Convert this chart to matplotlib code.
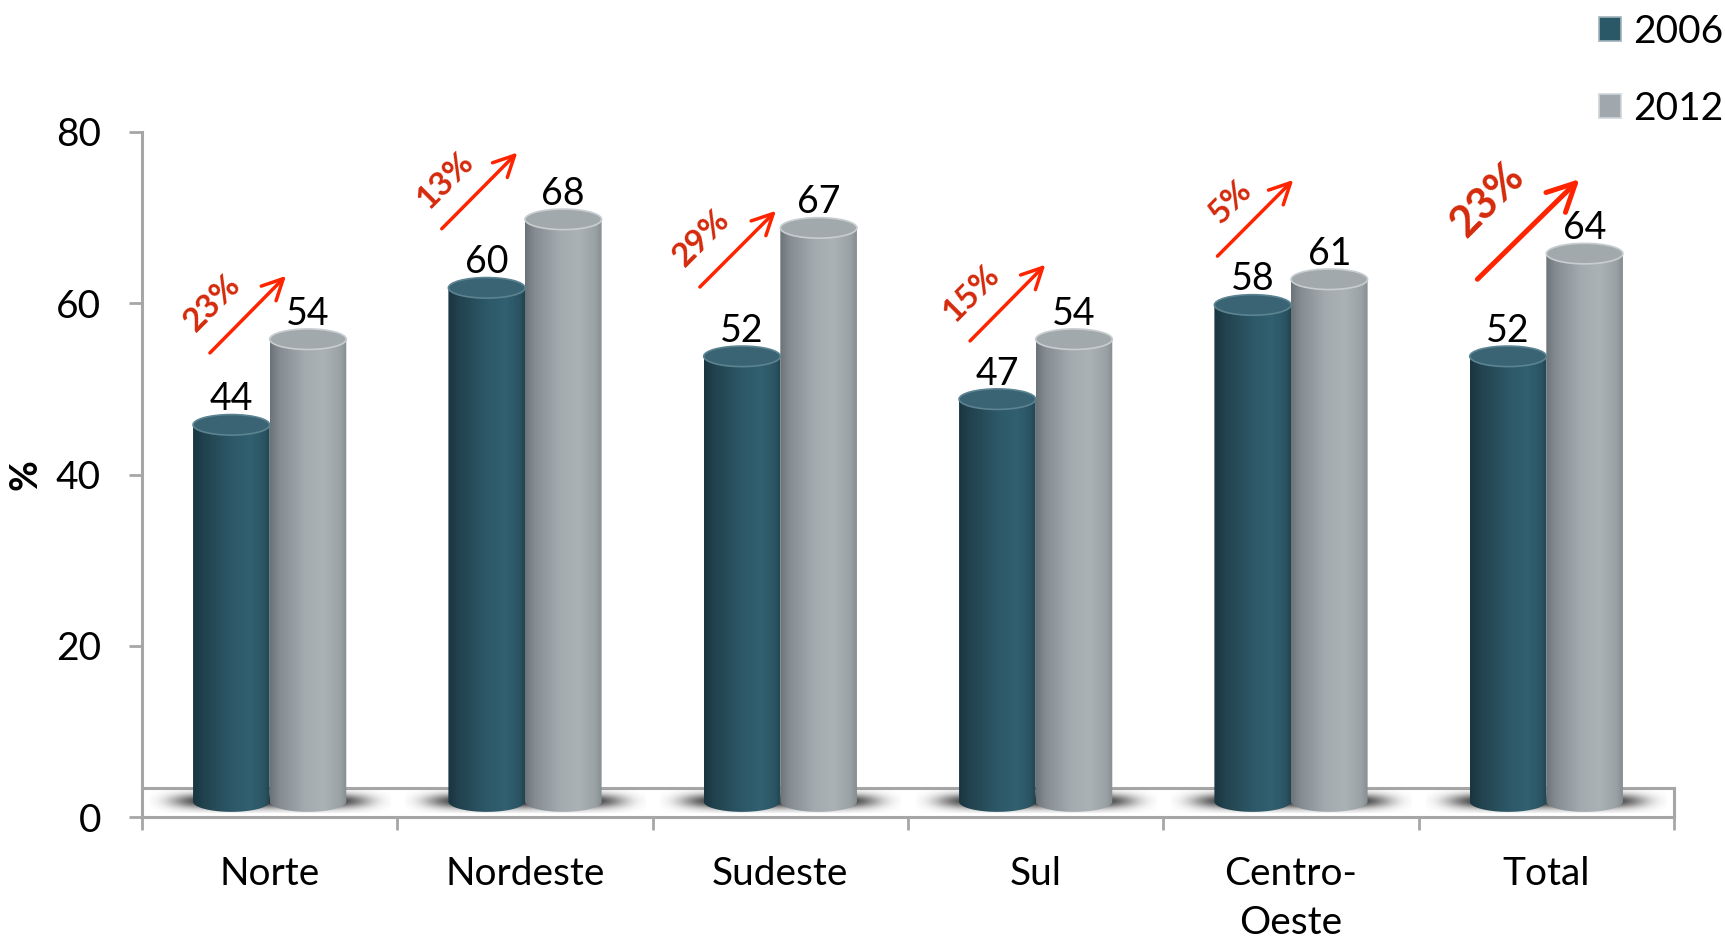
import matplotlib.pyplot as plt
import numpy as np
from matplotlib.patches import Ellipse, PathPatch, Rectangle, Patch
from matplotlib.path import Path
from matplotlib.colors import to_rgb

# data
regions = ['Norte', 'Nordeste', 'Sudeste', 'Sul', 'Centro-\nOeste', 'Total']
val_2006 = [44, 60, 52, 47, 58, 52]
val_2012 = [54, 68, 67, 54, 61, 64]
growth = ['23%', '13%', '29%', '15%', '5%', '23%']

# hand placed growth arrows / labels: (offset from group centre, y)
arrow_tail = [(-0.234, 54.2), (-0.326, 68.7), (-0.315, 61.9), (-0.257, 55.6), (-0.288, 65.5), (-0.270, 62.8)]
arrow_tip = [(0.064, 63.2), (-0.030, 77.6), (-0.017, 70.8), (0.038, 64.5), (0.009, 74.4), (0.130, 74.5)]
growth_pos = [(-0.226, 60.0), (-0.313, 74.4), (-0.308, 67.6), (-0.250, 61.2), (-0.238, 71.9), (-0.233, 72.1)]

plt.rcParams['font.family'] = ['Lato', 'DejaVu Sans']

GREY = '#a6a6a6'
BAR_W = 0.30
CAP_H = 2.4
LIFT = 1.8      # 3d depth lift of the cylinders
FLOOR = 3.4
FS = 27

grad_2006 = [(0.0, '#183540'), (0.15, '#22434f'), (0.5, '#2d5867'), (0.75, '#316070'), (0.93, '#2b5463'), (1.0, '#21434f')]
grad_2012 = [(0.0, '#6c7378'), (0.12, '#848c91'), (0.45, '#a3abaf'), (0.7, '#aab2b6'), (0.92, '#99a1a5'), (1.0, '#858d91')]


def gradient(stops, n=200):
    pos = np.array([s[0] for s in stops])
    cols = np.array([to_rgb(s[1]) for s in stops])
    t = np.linspace(0, 1, n)
    rgb = np.stack([np.interp(t, pos, cols[:, k]) for k in range(3)], axis=-1)
    return rgb[np.newaxis, :, :]


def cylinder(ax, x0, value, stops, cap, rim):
    bottom = LIFT
    top = value + LIFT
    t = np.linspace(np.pi, 2 * np.pi, 40)
    xs = x0 + BAR_W / 2 + BAR_W / 2 * np.cos(t)
    ys = bottom + CAP_H / 2 * np.sin(t)
    verts = list(zip(xs, ys)) + [(x0 + BAR_W, top), (x0, top), (xs[0], ys[0])]
    clip = PathPatch(Path(verts, closed=True), transform=ax.transData)
    im = ax.imshow(gradient(stops), extent=(x0, x0 + BAR_W, bottom - CAP_H / 2, top),
                   aspect='auto', interpolation='bilinear', zorder=3)
    im.set_clip_path(clip)
    ax.add_patch(Ellipse((x0 + BAR_W / 2, top), BAR_W, CAP_H, facecolor=cap,
                         edgecolor=rim, lw=1.2, zorder=4))


fig = plt.figure(figsize=(17.25, 9.39), dpi=100)
ax = fig.add_axes([142 / 1725, 1 - 817 / 939, 1532 / 1725, 685 / 939])

centers = np.arange(len(regions)) + 0.5

# floor of the 3d plot
ax.add_patch(Rectangle((0, 0), len(regions), FLOOR, facecolor='white', edgecolor='none', zorder=1))
ax.plot([0, len(regions)], [FLOOR, FLOOR], color=GREY, lw=2.2, zorder=1.5, clip_on=False)
ax.plot([len(regions), len(regions)], [0, FLOOR], color=GREY, lw=2.2, zorder=1.5, clip_on=False)

# soft shadows under each pair, darkest right at the cylinder bases
gx, gy = np.meshgrid(np.linspace(-1, 1, 240), np.linspace(-1, 1, 60))
shadow = np.zeros((60, 240, 4))
shadow[..., :3] = 0.1
shadow[..., 3] = 0.95 * np.exp(-(np.abs(gx) / 0.8) ** 6) * np.exp(-(gy / 0.6) ** 2)
for c in centers:
    ax.imshow(shadow, extent=(c - 0.47, c + 0.47, 0.5, 3.3), aspect='auto',
              interpolation='bilinear', zorder=2)

for i, c in enumerate(centers):
    cylinder(ax, c - BAR_W, val_2006[i], grad_2006, '#3a6473', '#5b8391')
    cylinder(ax, c, val_2012[i], grad_2012, '#a2a9ad', '#c8cdd0')
    ax.text(c - BAR_W / 2, val_2006[i] + 3.5, str(val_2006[i]), ha='center', va='baseline',
            fontsize=FS, zorder=5)
    ax.text(c + BAR_W / 2, val_2012[i] + 3.5, str(val_2012[i]), ha='center', va='baseline',
            fontsize=FS, zorder=5)

    big = regions[i] == 'Total'
    ax.annotate('', xy=(c + arrow_tip[i][0], arrow_tip[i][1]),
                xytext=(c + arrow_tail[i][0], arrow_tail[i][1]),
                arrowprops=dict(arrowstyle='->, head_length=%s, head_width=%s' % ((2.0, 1.0) if big else (1.5, 0.75)),
                                lw=3.6 if big else 2.5, color='#ff2400', shrinkA=0, shrinkB=0),
                annotation_clip=False, zorder=6)
    ax.text(c + growth_pos[i][0], growth_pos[i][1], growth[i], rotation=45, rotation_mode='anchor',
            ha='center', va='center', fontsize=31 if big else 24, fontweight='bold',
            color='#d42a0c', zorder=6)

ax.set_xlim(0, len(regions))
ax.set_ylim(0, 80)

ax.set_xticks(np.arange(len(regions) + 1))
ax.set_xticklabels([])
ax.set_xticks(centers, minor=True)
ax.set_xticklabels(regions, minor=True, fontsize=FS + 1)
for lab in ax.get_xticklabels(minor=True):
    lab.set_linespacing(1.45)
ax.tick_params(axis='x', which='major', direction='out', length=9, width=2, color=GREY)
ax.tick_params(axis='x', which='minor', length=0, pad=28)

ax.set_yticks([0, 20, 40, 60, 80])
ax.tick_params(axis='y', direction='out', length=9.5, width=2, color=GREY, labelsize=FS + 1, pad=20)

for side in ['top', 'right']:
    ax.spines[side].set_visible(False)
for side in ['left', 'bottom']:
    ax.spines[side].set_color(GREY)
    ax.spines[side].set_linewidth(2.2)

ax.set_ylabel('%', fontsize=FS, fontweight='bold')
ax.yaxis.set_label_coords(-0.065, 0.5)

handles = [Patch(facecolor='#2b5867', edgecolor='#9fb3ba', lw=1.2),
           Patch(facecolor='#a0a8ad', edgecolor='#d0d5d8', lw=1.2)]
fig.legend(handles, ['2006', '2012'], loc='upper right', bbox_to_anchor=(0.999, 0.985),
           frameon=False, fontsize=28, handlelength=0.58, handleheight=0.58,
           handletextpad=0.3, labelspacing=1.05, borderpad=0, borderaxespad=0)

fig.savefig('out.png', dpi=100, facecolor='white')
